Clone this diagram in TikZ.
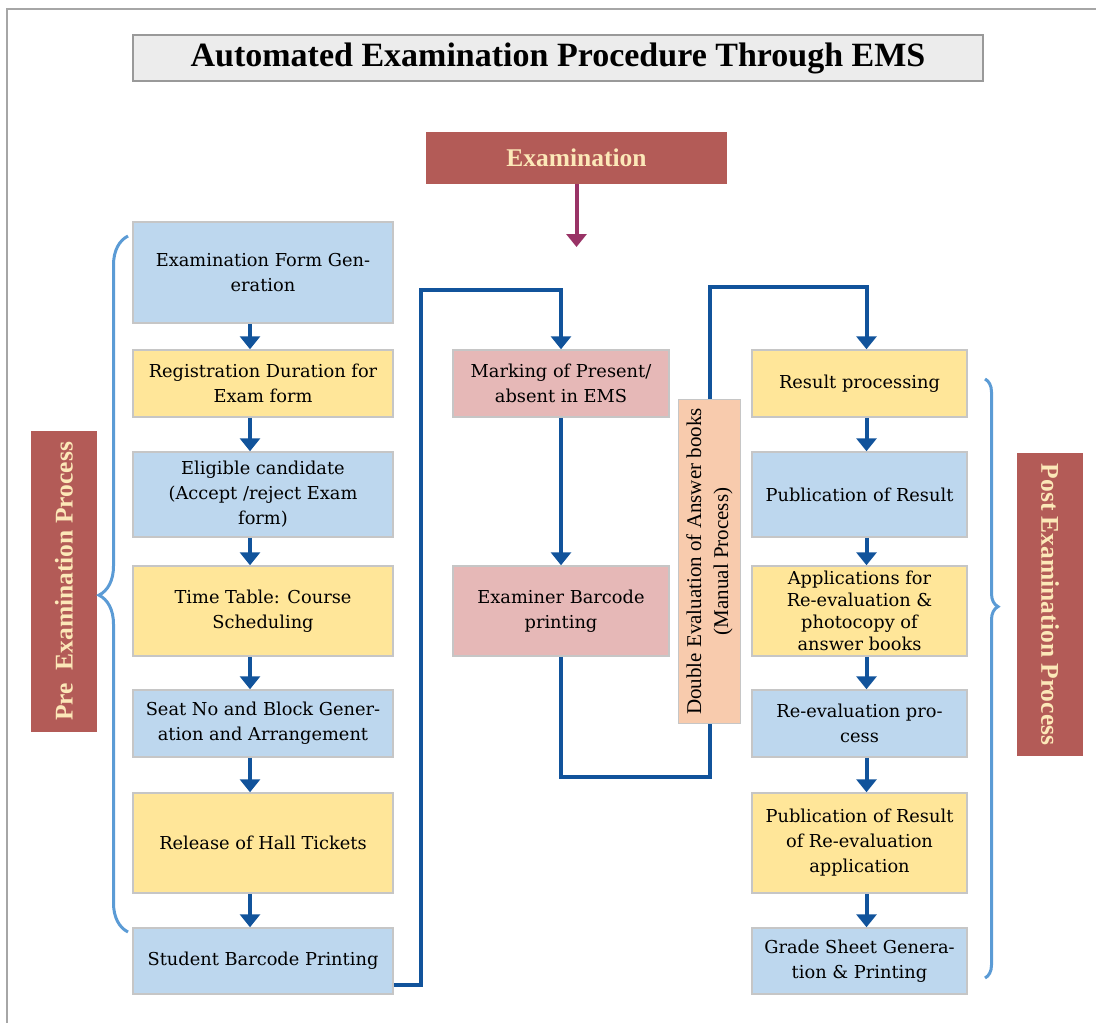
\documentclass[tikz,border=0pt]{standalone}
\usepackage{fontspec}
\setmainfont{Liberation Serif}
\newfontfamily\boxfont{DejaVu Serif}
\usepackage{xcolor}
\usetikzlibrary{positioning}
\usetikzlibrary{arrows.meta}
\usetikzlibrary{decorations.pathreplacing}

\definecolor{boxblue}{HTML}{BDD7EE}
\definecolor{boxyellow}{HTML}{FFE699}
\definecolor{boxpink}{HTML}{E6B8B7}
\definecolor{boxorange}{HTML}{F8CBAD}
\definecolor{boxred}{HTML}{B35B57}
\definecolor{cream}{HTML}{FCE8B8}
\definecolor{flowblue}{HTML}{11539B}
\definecolor{bracecol}{HTML}{5B9BD5}
\definecolor{plum}{HTML}{993366}
\definecolor{titlegray}{HTML}{ECECEC}

\begin{document}
\begin{tikzpicture}[x=1pt,y=-1pt,>={Triangle[width=20pt,length=13pt]},
                    step node/.style={draw=gray!45,line width=1.5pt,align=center,inner sep=3pt,
                                      font=\boxfont\fontsize{17.8}{25}\selectfont},
                    left node/.style={step node,minimum width=260pt},
                    right node/.style={step node,minimum width=215pt},
                    mid node/.style={step node,fill=boxpink,minimum width=216pt},
                    red node/.style={fill=boxred,text=cream,font=\bfseries\fontsize{25.5}{30}\selectfont}]
\useasboundingbox (0,0) rectangle (1096,1023);
\draw[gray!70,line width=2pt] (7,1023) -- (7,9) -- (1096,9);

\node[draw=gray!80,line width=1.5pt,fill=titlegray,minimum width=850pt,minimum height=46pt,
      font=\bfseries\fontsize{34}{40}\selectfont] (t) at (558,58) {Automated Examination Procedure Through EMS};
\node[red node,minimum width=301pt,minimum height=52pt] (0) at (576.5,158) {Examination};
\coordinate (e1) at (576.5,247);

% pre examination
\node[left node,fill=boxblue,minimum height=101pt] (1) at (263,272.5) {Examination Form Gen-\\eration};
\node[left node,fill=boxyellow,minimum height=67pt] (2) [below=25.5pt of 1] {Registration Duration for\\Exam form};
\node[left node,fill=boxblue,minimum height=85pt] (3) [below=33.5pt of 2] {Eligible candidate\\(Accept /reject Exam\\form)};
\node[left node,fill=boxyellow,minimum height=90pt] (4) [below=27.5pt of 3] {Time Table: Course\\Scheduling};
\node[left node,fill=boxblue,minimum height=67pt] (5) [below=32.5pt of 4] {Seat No and Block Gener-\\ation and Arrangement};
\node[left node,fill=boxyellow,minimum height=100pt] (6) [below=34.5pt of 5] {Release of Hall Tickets};
\node[left node,fill=boxblue,minimum height=66pt] (7) [below=33.5pt of 6] {Student Barcode Printing};

% examination
\node[mid node,minimum height=67pt] (8) [right=58.5pt of 2] {Marking of Present/\\absent in EMS};
\node[mid node,minimum height=90pt] (9) [right=58.5pt of 4] {Examiner Barcode\\printing};
\node[step node,fill=boxorange,rotate=90,minimum width=324pt,minimum height=62pt,
      font=\fontsize{21}{27}\selectfont] (10) at (709.5,561.5) {Double Evaluation of Answer books\\(Manual Process)};

% post examination
\node[right node,fill=boxyellow,minimum height=67pt] (11) [right=357.5pt of 2] {Result processing};
\node[right node,fill=boxblue,minimum height=85pt] (12) [right=357.5pt of 3] {Publication of Result};
\node[right node,fill=boxyellow,minimum height=90pt,inner ysep=0pt,
      font=\boxfont\fontsize{17.8}{22}\selectfont] (13) [right=357.5pt of 4] {Applications for\\Re-evaluation \&\\photocopy of\\answer books};
\node[right node,fill=boxblue,minimum height=67pt] (14) [right=357.5pt of 5] {Re-evaluation pro-\\cess};
\node[right node,fill=boxyellow,minimum height=100pt] (15) [right=357.5pt of 6] {Publication of Result\\of Re-evaluation\\application};
\node[right node,fill=boxblue,minimum height=66pt] (16) [right=357.5pt of 7] {Grade Sheet Genera-\\tion \& Printing};

\node[red node,rotate=90,minimum width=301pt,minimum height=66pt] (pre) at (64,581.5) {Pre\ \ Examination Process};
\node[red node,rotate=-90,minimum width=303pt,minimum height=66pt] (post) at (1050,604.5) {Post Examination Process};

\coordinate (c1) at (421,290);

\draw[plum,line width=4pt,->] (0.south) -- (e1);

\path[->,color=flowblue,line width=4pt]
  ([xshift=-13pt]1.south) edge ([xshift=-13pt]2.north)
  ([xshift=-13pt]2.south) edge ([xshift=-13pt]3.north)
  ([xshift=-13pt]3.south) edge ([xshift=-13pt]4.north)
  ([xshift=-13pt]4.south) edge ([xshift=-13pt]5.north)
  ([xshift=-13pt]5.south) edge ([xshift=-13pt]6.north)
  ([xshift=-13pt]6.south) edge ([xshift=-13pt]7.north)
  (8.south) edge (9.north)
  ([xshift=7pt]11.south) edge ([xshift=7pt]12.north)
  ([xshift=7pt]12.south) edge ([xshift=7pt]13.north)
  ([xshift=7pt]13.south) edge ([xshift=7pt]14.north)
  ([xshift=7pt]14.south) edge ([xshift=7pt]15.north)
  ([xshift=7pt]15.south) edge ([xshift=7pt]16.north);

\draw[flowblue,line width=4pt,->] ([yshift=-24pt]7.east) -| (c1) -| (8.north);
\draw[flowblue,line width=4pt] (9.south) -- ++(0,120) -| (10.west);
\draw[flowblue,line width=4pt,->] (10.east) |- ([xshift=7pt,yshift=62pt]11.north) -- ([xshift=7pt]11.north);

\draw[bracecol,line width=3pt,decorate,decoration={brace,amplitude=29pt,aspect=0.484}] (128,932) -- (128,236);
\draw[bracecol,line width=3pt,decorate,decoration={brace,amplitude=13pt,aspect=0.38}] (985,379) -- (985,978);
\end{tikzpicture}
\end{document}
